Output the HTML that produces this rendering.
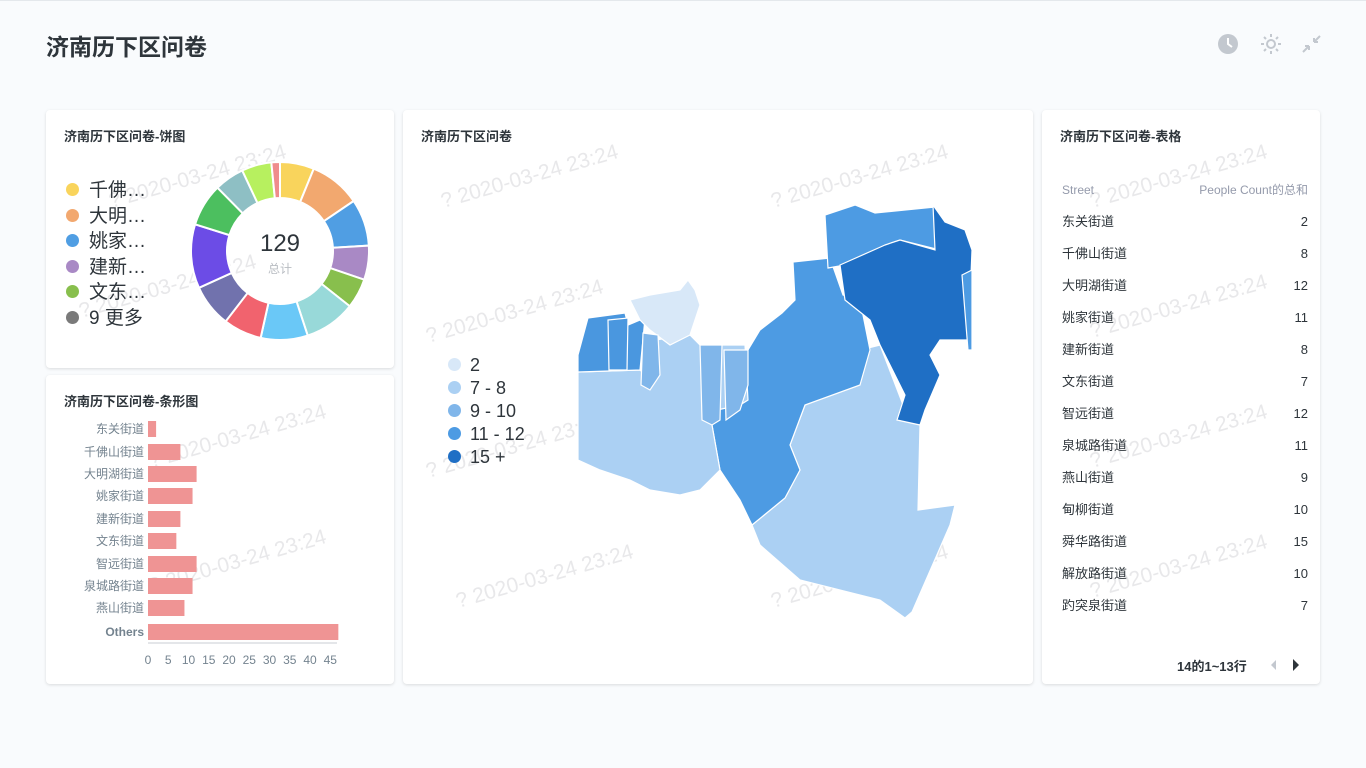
<!DOCTYPE html>
<html><head><meta charset="utf-8"><style>
*{margin:0;padding:0;box-sizing:border-box}
body{width:1366px;height:768px;background:#f9fbfd;font-family:"Liberation Sans","Noto Sans CJK SC",sans-serif;position:relative;overflow:hidden;color:#2e353b}
.card{position:absolute;background:#fff;border-radius:4px;box-shadow:0 1px 3px rgba(0,0,0,.13);overflow:hidden}
.ct{position:absolute;left:18px;top:16px;font-size:13px;font-weight:bold;color:#2e353b}
.wm{position:absolute;font-size:21px;color:rgba(190,190,195,.35);transform:rotate(-16deg);white-space:nowrap;font-family:"Liberation Sans",sans-serif}
.row{position:absolute;left:20px;right:12px;font-size:13px;color:#2e353b;height:20px;line-height:20px}
.row span{position:absolute;right:0;top:0}
</style></head><body>
<div style="position:absolute;left:0;top:0;width:1366px;height:1px;background:#e4e8ec"></div>
<div style="position:absolute;left:46px;top:28px;font-size:23px;font-weight:bold;color:#2e353b">济南历下区问卷</div>
<svg style="position:absolute;left:1216px;top:32px" width="110" height="24">
<circle cx="12" cy="12" r="10" fill="#c3c8cf"/><path d="M12 6v6l4 3" stroke="#fff" stroke-width="2" fill="none"/>
<circle cx="55" cy="12" r="4" fill="none" stroke="#c3c8cf" stroke-width="2"/>
<g stroke="#c3c8cf" stroke-width="2"><path d="M55 2v3M55 19v3M45 12h3M62 12h3M48 5l2 2M60 17l2 2M48 19l2-2M60 7l2-2"/></g>
<path d="M87 20l6-6M93 14h-4M93 14v4M104 4l-6 6M98 10h4M98 10v-4" stroke="#c3c8cf" stroke-width="2" fill="none"/>
</svg>

<!-- pie card -->
<div class="card" style="left:46px;top:110px;width:348px;height:258px">
<div class="ct">济南历下区问卷-饼图</div>
<div class="wm" style="left:60px;top:55px">? 2020-03-24 23:24</div>
<div class="wm" style="left:30px;top:165px">? 2020-03-24 23:24</div>
<div style="position:absolute;left:20px;top:68px;font-size:19px;line-height:25.5px;color:#2e353b">
<div><span style="display:inline-block;width:13px;height:13px;border-radius:50%;background:#f9d45c;margin-right:10px"></span>千佛…</div>
<div><span style="display:inline-block;width:13px;height:13px;border-radius:50%;background:#f2a86f;margin-right:10px"></span>大明…</div>
<div><span style="display:inline-block;width:13px;height:13px;border-radius:50%;background:#509ee3;margin-right:10px"></span>姚家…</div>
<div><span style="display:inline-block;width:13px;height:13px;border-radius:50%;background:#a989c5;margin-right:10px"></span>建新…</div>
<div><span style="display:inline-block;width:13px;height:13px;border-radius:50%;background:#88bf4d;margin-right:10px"></span>文东…</div>
<div><span style="display:inline-block;width:13px;height:13px;border-radius:50%;background:#7a7a7a;margin-right:10px"></span>9 更多</div>
</div>
<svg id="pie" style="position:absolute;left:0;top:0" width="348" height="258"></svg>
<div style="position:absolute;left:194px;top:120px;width:80px;text-align:center;font-size:24px;color:#2e353b">129</div>
<div style="position:absolute;left:194px;top:150px;width:80px;text-align:center;font-size:12px;color:#b8bcc2">总计</div>
</div>

<!-- bar card -->
<div class="card" style="left:46px;top:375px;width:348px;height:309px">
<div class="ct">济南历下区问卷-条形图</div>
<div class="wm" style="left:100px;top:50px">? 2020-03-24 23:24</div>
<div class="wm" style="left:100px;top:175px">? 2020-03-24 23:24</div>
<svg style="position:absolute;left:0;top:0" width="348" height="309" font-family="Liberation Sans,Noto Sans CJK SC,sans-serif" font-size="12" fill="#74838f" id="bar"></svg>
</div>

<!-- map card -->
<div class="card" style="left:403px;top:110px;width:630px;height:574px">
<div class="ct">济南历下区问卷</div>
<div class="wm" style="left:35px;top:55px">? 2020-03-24 23:24</div>
<div class="wm" style="left:365px;top:55px">? 2020-03-24 23:24</div>
<div class="wm" style="left:20px;top:190px">? 2020-03-24 23:24</div>
<div class="wm" style="left:20px;top:325px">? 2020-03-24 23:24</div>
<div class="wm" style="left:50px;top:455px">? 2020-03-24 23:24</div>
<div class="wm" style="left:365px;top:455px">? 2020-03-24 23:24</div>
<div style="position:absolute;left:45px;top:244px;font-size:18px;line-height:23px;color:#2e353b">
<div><span style="display:inline-block;width:13px;height:13px;border-radius:50%;background:#d8e8f8;margin-right:9px"></span>2</div>
<div><span style="display:inline-block;width:13px;height:13px;border-radius:50%;background:#abd0f3;margin-right:9px"></span>7 - 8</div>
<div><span style="display:inline-block;width:13px;height:13px;border-radius:50%;background:#80b6ea;margin-right:9px"></span>9 - 10</div>
<div><span style="display:inline-block;width:13px;height:13px;border-radius:50%;background:#4d9be3;margin-right:9px"></span>11 - 12</div>
<div><span style="display:inline-block;width:13px;height:13px;border-radius:50%;background:#1f6fc5;margin-right:9px"></span>15 +</div>
</div>
<svg style="position:absolute;left:-403px;top:-110px" width="1366" height="768" stroke="#fff" stroke-width="1.2">
<polygon fill="#abd0f3" points="752,525 785,498 800,470 790,445 805,405 855,385 860,350 880,345 905,410 920,425 918,510 955,505 950,525 912,612 905,618 880,600 800,580 760,545"/>
<polygon fill="#4d9be3" points="712,425 717,405 740,400 745,355 760,330 782,313 795,300 793,262 830,258 843,295 860,300 870,350 860,385 805,405 790,445 800,470 785,498 752,525 740,500 720,470"/>
<polygon fill="#4d9be3" points="825,215 855,205 875,213 905,210 935,207 940,250 900,240 885,245 845,265 828,268"/>
<polygon fill="#1f6fc5" points="840,265 885,245 900,240 935,250 933,205 945,222 965,230 972,250 970,300 968,340 940,340 930,355 940,375 925,410 920,425 897,420 905,395 880,345 870,320 845,300"/>
<polygon fill="#4d9be3" points="962,275 972,270 972,350 968,350"/>
<polygon fill="#abd0f3" points="578,372 640,370 650,380 655,340 690,335 700,345 745,345 748,400 740,405 717,410 712,425 720,470 700,490 680,495 650,490 630,480 600,470 578,460"/>
<polygon fill="#4a97df" points="578,355 588,318 625,313 628,325 645,318 640,370 578,372"/>
<polygon fill="#d8e8f8" points="630,300 650,295 680,290 688,280 695,290 700,305 690,335 670,345 650,330 640,320"/>
<polygon fill="#80b6ea" points="700,345 722,345 720,420 712,425 702,420"/>
<polygon fill="#80b6ea" points="724,350 748,350 748,385 740,410 726,420"/>
<polygon fill="#80b6ea" points="643,333 658,335 660,375 650,390 641,385"/>
<polygon fill="#4a97df" points="608,320 628,318 627,370 609,370"/>
</svg>
</div>

<!-- table card -->
<div class="card" style="left:1042px;top:110px;width:278px;height:574px">
<div class="ct">济南历下区问卷-表格</div>
<div class="wm" style="left:45px;top:55px">? 2020-03-24 23:24</div>
<div class="wm" style="left:45px;top:185px">? 2020-03-24 23:24</div>
<div class="wm" style="left:45px;top:315px">? 2020-03-24 23:24</div>
<div class="wm" style="left:45px;top:445px">? 2020-03-24 23:24</div>
<div class="row" style="top:70px;font-size:12px;color:#949aab">Street<span>People Count的总和</span></div>
<div class="row" style="top:102px">东关街道<span>2</span></div>
<div class="row" style="top:134px">千佛山街道<span>8</span></div>
<div class="row" style="top:166px">大明湖街道<span>12</span></div>
<div class="row" style="top:198px">姚家街道<span>11</span></div>
<div class="row" style="top:230px">建新街道<span>8</span></div>
<div class="row" style="top:262px">文东街道<span>7</span></div>
<div class="row" style="top:294px">智远街道<span>12</span></div>
<div class="row" style="top:326px">泉城路街道<span>11</span></div>
<div class="row" style="top:358px">燕山街道<span>9</span></div>
<div class="row" style="top:390px">甸柳街道<span>10</span></div>
<div class="row" style="top:422px">舜华路街道<span>15</span></div>
<div class="row" style="top:454px">解放路街道<span>10</span></div>
<div class="row" style="top:486px">趵突泉街道<span>7</span></div>
<div style="position:absolute;left:135px;top:546px;font-size:13px;font-weight:bold;color:#2e353b">14的1~13行</div>
<div style="position:absolute;left:229px;top:550px;width:0;height:0;border-top:5px solid transparent;border-bottom:5px solid transparent;border-right:5px solid #c3c8cf"></div>
<div style="position:absolute;left:251px;top:549px;width:0;height:0;border-top:6px solid transparent;border-bottom:6px solid transparent;border-left:6px solid #2e353b"></div>
</div>

<script>
(function(){
var vals=[8,12,11,8,7,12,11,9,10,15,10,7,7,2];
var cols=['#f9d45c','#f2a86f','#509ee3','#a989c5','#88bf4d','#98d9d9','#6ac8f7','#f1636e','#7172ad','#6c4ce6','#4cbf5f','#8ebfc4','#b7f05f','#ef8c8c'];
var cx=234,cy=141,R=89,r=53,a=0,s='';
for(var i=0;i<vals.length;i++){
 var b=a+vals[i]/129*Math.PI*2;
 function p(rr,t){return (cx+rr*Math.sin(t)).toFixed(2)+' '+(cy-rr*Math.cos(t)).toFixed(2)}
 var l=(b-a)>Math.PI?1:0;
 s+='<path fill="'+cols[i]+'" stroke="#fff" stroke-width="2" d="M'+p(R,a)+' A'+R+' '+R+' 0 '+l+' 1 '+p(R,b)+' L'+p(r,b)+' A'+r+' '+r+' 0 '+l+' 0 '+p(r,a)+'Z"/>';
 a=b;}
document.getElementById('pie').innerHTML=s;
var names=['东关街道','千佛山街道','大明湖街道','姚家街道','建新街道','文东街道','智远街道','泉城路街道','燕山街道','Others'];
var v=[2,8,12,11,8,7,12,11,9,47];
var ys=[54,77,99,121,144,166,189,211,233,257];
var k=4.05,x0=102,t='';
for(var j=0;j<10;j++){
 t+='<rect x="'+x0+'" y="'+(ys[j]-8)+'" width="'+(v[j]*k)+'" height="16" fill="#ef9494"/>';
 t+='<text x="'+(x0-4)+'" y="'+(ys[j]+4)+'" text-anchor="end"'+(j==9?' font-weight="bold"':'')+'>'+names[j]+'</text>';}
t+='<line x1="'+x0+'" y1="268" x2="291" y2="268" stroke="#c8cdd3"/>';
for(var q=0;q<=45;q+=5){t+='<text x="'+(x0+q*k)+'" y="289" text-anchor="middle">'+q+'</text>';}
document.getElementById('bar').innerHTML=t;
})();
</script>
</body></html>
